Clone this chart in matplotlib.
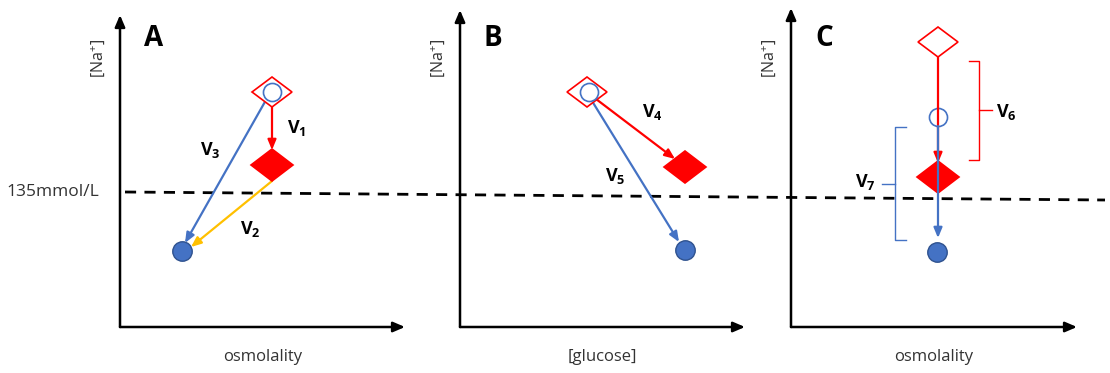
import matplotlib.pyplot as plt
from matplotlib.patches import Polygon

plt.rcParams['font.family'] = ['Open Sans', 'DejaVu Sans']
plt.rcParams['mathtext.fontset'] = 'custom'
plt.rcParams['mathtext.rm'] = 'Open Sans'
plt.rcParams['mathtext.bf'] = 'Open Sans:bold'

RED = '#FF0000'
BLUE = '#4472C4'
YELLOW = '#FFC000'

# schematic coordinates (pixel units, y downwards)
panel_names = ['A', 'B', 'C']
xlabels = ['osmolality', '[glucose]', 'osmolality']
axis_x0 = [120, 460, 791]
axis_top = [15, 10, 8]
axis_right = [405, 745, 1077]
axis_bottom = 327

# open diamond = start, filled diamond = after change, open/filled circle
open_diamond_x = [272, 587, 938]
open_diamond_y = [92, 92, 42]
open_circle_x = [272, 589, 938]
open_circle_y = [92, 92, 117]
filled_diamond_x = [272, 685, 938]
filled_diamond_y = [165, 167, 177]
filled_circle_x = [182, 685, 937]
filled_circle_y = [251, 250, 252]

threshold_label = '135mmol/L'
threshold_x = [125, 1105]
threshold_y = [192, 200]

fig = plt.figure(figsize=(11.1, 3.73), dpi=100)
ax = fig.add_axes([0, 0, 1, 1])
ax.set_xlim(0, 1110)
ax.set_ylim(373, 0)
ax.axis('off')


def diamond(cx, cy, hw, hh, filled, z=3):
    p = Polygon([(cx - hw, cy), (cx, cy - hh), (cx + hw, cy), (cx, cy + hh)],
                closed=True, facecolor=RED if filled else 'white',
                edgecolor=RED, lw=1.2, zorder=z)
    ax.add_patch(p)


def arrow(x0, y0, x1, y1, color, lw=1.6, z=2, hl=0.6, hw=0.25):
    ax.annotate('', xy=(x1, y1), xytext=(x0, y0),
                arrowprops=dict(arrowstyle='-|>,head_length=%s,head_width=%s' % (hl, hw),
                                color=color, lw=lw, shrinkA=0, shrinkB=0),
                zorder=z)


# axes of each panel
for i in range(3):
    x0 = axis_x0[i]
    arrow(x0, axis_bottom, x0, axis_top[i], 'black', lw=1.8, hl=0.7, hw=0.3)
    arrow(x0, axis_bottom, axis_right[i], axis_bottom, 'black', lw=1.8, hl=0.7, hw=0.3)
    ax.text(x0 + 24, 38, panel_names[i], fontsize=20, fontweight='bold',
            ha='left', va='center')
    ax.text(x0 - 22, 58, '[Na$^{+}$]', fontsize=11.5, rotation=90,
            ha='center', va='center', color='#333333')
    ax.text((x0 + axis_right[i]) / 2, 357, xlabels[i], fontsize=12,
            ha='center', va='center', color='#333333')

# threshold line
ax.plot(threshold_x, threshold_y, color='black', lw=2, ls=(0, (4, 3)), zorder=1)
ax.text(6, 192, threshold_label, fontsize=12.5, ha='left', va='center',
        color='#333333')

# markers
for i in range(3):
    diamond(open_diamond_x[i], open_diamond_y[i], 20, 15, False, z=3)
    diamond(filled_diamond_x[i], filled_diamond_y[i], 21, 16, True, z=3)
    ax.plot(open_circle_x[i], open_circle_y[i], 'o', ms=13,
            mfc='white' if i < 2 else 'none',
            mec=BLUE, mew=1.2, zorder=4 if i < 2 else 1.5)
    ax.plot(filled_circle_x[i], filled_circle_y[i], 'o', ms=14, mfc=BLUE,
            mec='#2F528F', mew=1, zorder=4)

# panel A arrows
arrow(272, 102, 272, 150, RED)
arrow(266, 100, 185, 243, BLUE)
arrow(272, 181, 191, 247, YELLOW)
ax.text(287, 128, r'$\mathbf{V_1}$', fontsize=13, ha='left', va='center')
ax.text(200, 150, r'$\mathbf{V_3}$', fontsize=13, ha='left', va='center')
ax.text(240, 229, r'$\mathbf{V_2}$', fontsize=13, ha='left', va='center')

# panel B arrows
arrow(596, 99, 675, 159, RED)
arrow(592, 101, 679, 242, BLUE)
ax.text(642, 112, r'$\mathbf{V_4}$', fontsize=13, ha='left', va='center')
ax.text(605, 176, r'$\mathbf{V_5}$', fontsize=13, ha='left', va='center')

# panel C arrows and brackets
arrow(938, 57, 938, 163, RED, z=2)
arrow(938, 126, 938, 238, BLUE, z=5)
ax.plot([969, 979, 979, 969], [61, 61, 160, 160], color=RED, lw=1)
ax.plot([979, 992], [110, 110], color=RED, lw=1)
ax.text(996, 112, r'$\mathbf{V_6}$', fontsize=13, ha='left', va='center')
ax.plot([906, 895, 895, 906], [127, 127, 240, 240], color=BLUE, lw=1)
ax.plot([882, 895], [184, 184], color=BLUE, lw=1)
ax.text(855, 182, r'$\mathbf{V_7}$', fontsize=13, ha='left', va='center')

fig.savefig('out.png', dpi=100)
